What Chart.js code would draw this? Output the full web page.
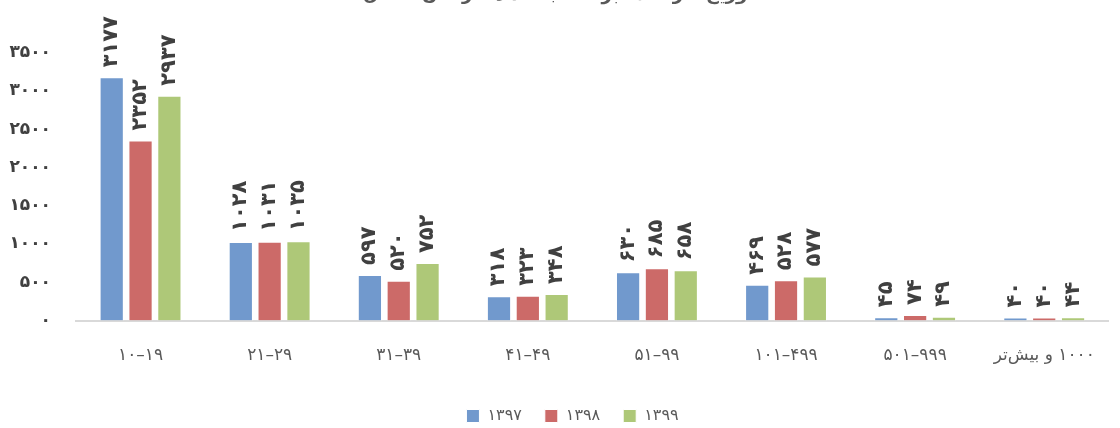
<!DOCTYPE html>
<html>
<head>
<meta charset="utf-8">
<script src="https://cdn.jsdelivr.net/npm/chart.js@4"></script>
<style>
  html, body { margin: 0; padding: 0; background: #fff; overflow: hidden; }
  #wrap { position: absolute; left: 0; top: -24px; width: 1120px; height: 458px; }
</style>
</head>
<body>
<div id="wrap"><canvas id="chart"></canvas></div>
<script>
const categories = ["10–19", "21–29", "31–39", "41–49", "51–99", "101–499", "501–999", "\u20671000 و بیش‌تر\u2069"];
const seriesNames = ["1397", "1398", "1399"];
const values1397 = [3177, 1028, 597, 318, 630, 469, 45, 40];
const values1398 = [2352, 1031, 520, 323, 685, 528, 74, 40];
const values1399 = [2937, 1035, 752, 348, 658, 577, 49, 44];
const yTicks = [0, 500, 1000, 1500, 2000, 2500, 3000, 3500];
const titleText = "توزیع کارگاه‌ها بر حسب تعداد کارکنان شاغل";

const colors = ["#7199cd", "#cc6a68", "#aec878"];

// ارقام فارسی
const fa = s => String(s).replace(/\d/g, d => "۰۱۲۳۴۵۶۷۸۹"[d]);

const FONT = "'DejaVu Sans', sans-serif";

// برچسب‌های عمودی بالای ستون‌ها
const barLabels = {
  id: "barLabels",
  afterDatasetsDraw(chart) {
    const ctx = chart.ctx;
    ctx.save();
    ctx.fillStyle = "#404040";
    ctx.font = "bold 21px " + FONT;
    ctx.letterSpacing = "2.5px";
    ctx.textAlign = "left";
    ctx.textBaseline = "middle";
    chart.data.datasets.forEach((ds, i) => {
      chart.getDatasetMeta(i).data.forEach((bar, j) => {
        ctx.save();
        ctx.translate(bar.x, bar.y - 10);
        ctx.rotate(-Math.PI / 2);
        ctx.fillText(fa(ds.data[j]), 0, 0);
        ctx.restore();
      });
    });
    ctx.restore();
  }
};

// راهنما کمی به راست
const legendShift = {
  id: "legendShift",
  afterLayout(chart) {
    chart.legend.left += 28;
  }
};

const datasets = [values1397, values1398, values1399].map((v, i) => ({
  label: fa(seriesNames[i]),
  data: v,
  backgroundColor: colors[i],
  borderColor: "#ffffff",
  borderWidth: 1,
  barPercentage: 0.84,
  categoryPercentage: 0.67
}));

new Chart(document.getElementById("chart"), {
  type: "bar",
  data: { labels: categories.map(fa), datasets },
  plugins: [barLabels, legendShift],
  options: {
    responsive: true,
    maintainAspectRatio: false,
    animation: false,
    layout: { autoPadding: false, padding: { left: 0, right: 3, top: 0, bottom: 0 } },
    plugins: {
      title: {
        display: true,
        text: titleText,
        color: "#595959",
        font: { family: FONT, size: 18, weight: "bold" },
        padding: { top: 9, bottom: 46 }
      },
      legend: {
        position: "bottom",
        labels: {
          color: "#595959",
          font: { family: FONT, size: 16 },
          boxWidth: 13,
          boxHeight: 13,
          padding: 23
        }
      },
      tooltip: { enabled: false }
    },
    scales: {
      x: {
        grid: { display: false, drawTicks: false },
        border: { color: "#d9d9d9", width: 2 },
        afterFit: s => { s.height -= 6; },
        ticks: {
          color: "#595959",
          font: { family: FONT, size: 17 },
          padding: 25,
          maxRotation: 0,
          autoSkip: false
        }
      },
      y: {
        min: 0,
        max: 3500,
        afterFit: s => { s.width = 76; },
        afterBuildTicks: axis => { axis.ticks = yTicks.map(v => ({ value: v })); },
        grid: { display: false, drawTicks: false },
        border: { display: false },
        ticks: {
          color: "#404040",
          font: { family: FONT, size: 17, weight: "bold" },
          padding: 25,
          callback: v => fa(v)
        }
      }
    }
  }
});
</script>
</body>
</html>
